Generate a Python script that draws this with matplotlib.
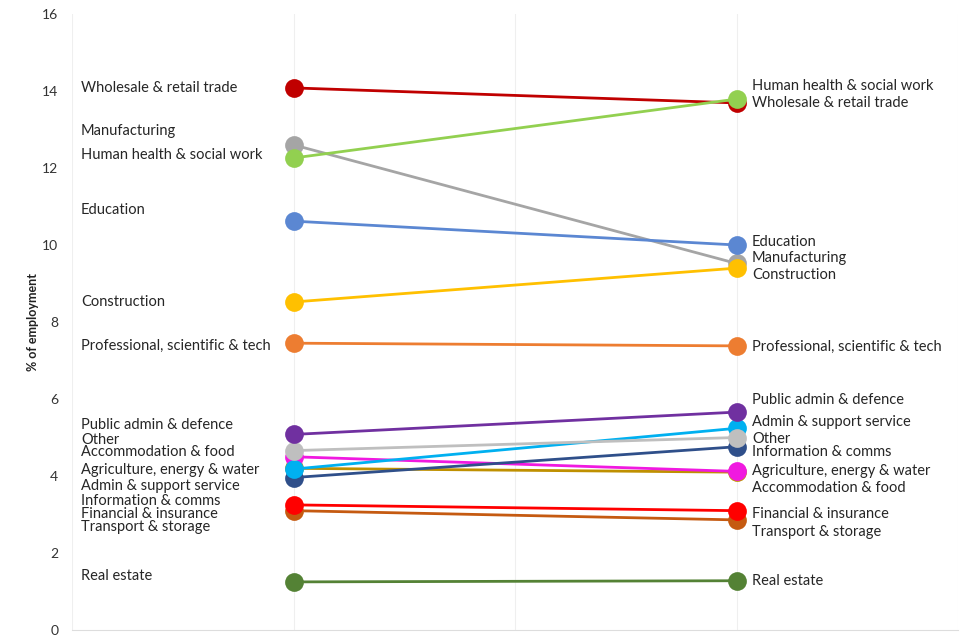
import matplotlib
matplotlib.use("Agg")
import matplotlib.pyplot as plt

# ---- data (listed in drawing order, back to front) ----
sectors = ["Wholesale & retail trade", "Manufacturing", "Human health & social work",
           "Education", "Construction", "Professional, scientific & tech",
           "Agriculture, energy & water", "Accommodation & food",
           "Information & comms", "Admin & support service", "Other",
           "Public admin & defence", "Transport & storage", "Financial & insurance",
           "Real estate"]
share_start = [14.08, 12.60, 12.26, 10.62, 8.52, 7.45, 4.20, 4.50,
               3.96, 4.18, 4.66, 5.08, 3.10, 3.25, 1.25]
share_end = [13.69, 9.52, 13.79, 10.00, 9.40, 7.38, 4.10, 4.12,
             4.76, 5.24, 5.00, 5.66, 2.86, 3.10, 1.28]

# ---- layout / style (label positions are manual offsets to avoid overlap) ----
colors = ["#C00000", "#A5A5A5", "#92D050", "#5B87D2", "#FFC000", "#ED7D31",
          "#BF9000", "#F019E0", "#2F4F8A", "#00B0F0", "#BFBFBF", "#7030A0",
          "#C55A11", "#FF0000", "#548235"]
left_label_y = [14.08, 12.96, 12.34, 10.91, 8.52, 7.38, 5.32, 4.94, 4.62,
                4.16, 3.74, 3.35, 3.01, 2.68, 1.40]
left_label_order = ["Wholesale & retail trade", "Manufacturing", "Human health & social work",
                    "Education", "Construction", "Professional, scientific & tech",
                    "Public admin & defence", "Other", "Accommodation & food",
                    "Agriculture, energy & water", "Admin & support service",
                    "Information & comms", "Financial & insurance", "Transport & storage",
                    "Real estate"]
right_label_y = [14.12, 13.69, 10.08, 9.66, 9.22, 7.35, 5.97, 5.40, 4.96,
                 4.62, 4.13, 3.69, 3.01, 2.55, 1.27]
right_label_order = ["Human health & social work", "Wholesale & retail trade", "Education",
                     "Manufacturing", "Construction", "Professional, scientific & tech",
                     "Public admin & defence", "Admin & support service", "Other",
                     "Information & comms", "Agriculture, energy & water",
                     "Accommodation & food", "Financial & insurance",
                     "Transport & storage", "Real estate"]

plt.rcParams['font.family'] = ['Lato', 'DejaVu Sans']

fig = plt.figure(figsize=(9.61, 6.36), dpi=100)
ax = fig.add_axes([0.075, 0.0094, 0.922, 0.9686])

x_pos = [1, 3]
for name, a, b, c in zip(sectors, share_start, share_end, colors):
    ax.plot(x_pos, [a, b], color=c, lw=2.0, marker="o", markersize=13.5,
            markeredgewidth=0, solid_capstyle="butt", zorder=3)

text_color = "#262626"
for name, y in zip(left_label_order, left_label_y):
    ax.text(0.04, y, name, ha="left", va="center", fontsize=10.5, color=text_color)
for name, y in zip(right_label_order, right_label_y):
    ax.text(3.07, y, name, ha="left", va="center", fontsize=10.5, color=text_color)

ax.set_xlim(0, 4)
ax.set_ylim(0, 16)
ax.set_yticks(range(0, 17, 2))
ax.set_xticks([0, 1, 2, 3, 4])
ax.set_xticklabels([])
ax.tick_params(axis="both", length=0, labelsize=10, colors="#333333")
ax.tick_params(axis="y", pad=10)
ax.grid(axis="x", color="#EFEFEF", lw=0.8)
for s in ["top", "right", "left"]:
    ax.spines[s].set_visible(False)
ax.spines["bottom"].set_color("#DDDDDD")
ax.set_ylabel("% of employment", fontsize=9, fontweight="bold", color="#222222", labelpad=2)

fig.savefig("out.png", dpi=100, facecolor="white")
